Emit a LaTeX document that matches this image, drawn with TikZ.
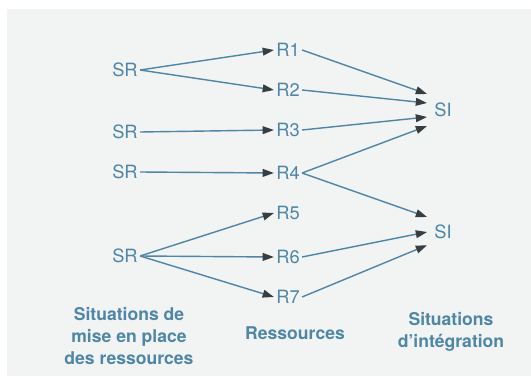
\documentclass[tikz,border=0pt]{standalone}
\usepackage{fontspec}
\setmainfont{TeX Gyre Heros}
\usetikzlibrary{arrows.meta}
\definecolor{bgray}{RGB}{242,243,243}
\definecolor{slate}{RGB}{78,134,166}
\definecolor{tipgray}{RGB}{55,62,66}
\begin{document}
\begin{tikzpicture}[
    lbl/.style={text=slate, inner sep=1.5pt, font=\fontsize{13}{15}\selectfont},
    si/.style={lbl, inner xsep=5pt},
    title/.style={text=slate, align=center, font=\fontsize{12.5}{15.5}\selectfont\bfseries},
    link/.style={draw=slate, line width=1pt, -{Triangle[length=8pt,width=5.5pt,color=tipgray]}}
]
    \useasboundingbox (0, 0) rectangle (13.275, 9.4);
    \fill[bgray] (0.175, 0) rectangle (13.275, 9.175);
    % situations de mise en place
    \node[lbl] (sr1) at (3.125, 7.65) {SR};
    \node[lbl] (sr2) at (3.125, 6.1) {SR};
    \node[lbl] (sr3) at (3.125, 5.1) {SR};
    \node[lbl] (sr4) at (3.125, 3.0) {SR};
    % ressources
    \node[lbl] (r1) at (7.2, 8.15) {R1};
    \node[lbl] (r2) at (7.2, 7.15) {R2};
    \node[lbl] (r3) at (7.2, 6.15) {R3};
    \node[lbl] (r4) at (7.2, 5.075) {R4};
    \node[lbl] (r5) at (7.2, 4.075) {R5};
    \node[lbl] (r6) at (7.2, 2.975) {R6};
    \node[lbl] (r7) at (7.2, 1.975) {R7};
    % situations d'integration
    \node[si] (si1) at (11.075, 6.65) {SI};
    \node[si] (si2) at (11.075, 3.6) {SI};
    \draw[link] (sr1.east) to (r1.west);
    \draw[link] (sr1.east) to (r2.west);
    \draw[link] (sr2.east) to (r3.west);
    \draw[link] (sr3.east) to (r4.west);
    \draw[link] (sr4.east) to (r5.west);
    \draw[link] (sr4.east) to (r6.west);
    \draw[link] (sr4.east) to (r7.west);
    \draw[link] (r1.east) to ([yshift=0.4cm]si1.west);
    \draw[link] (r2.east) to ([yshift=0.175cm]si1.west);
    \draw[link] (r3.east) to ([yshift=-0.175cm]si1.west);
    \draw[link] (r4.east) to ([yshift=-0.4cm]si1.west);
    \draw[link] (r4.east) to ([yshift=0.375cm]si2.west);
    \draw[link] (r6.east) to (si2.west);
    \draw[link] (r7.east) to ([yshift=-0.33cm]si2.west);
    \node[title] (tsr) at (3.225, 1.0) {Situations de\\mise en place\\des ressources};
    \node[title] (tr) at (7.375, 1.075) {Ressources};
    \node[title] (tsi) at (11.275, 1.1) {Situations\\d’intégration};
\end{tikzpicture}
\end{document}
